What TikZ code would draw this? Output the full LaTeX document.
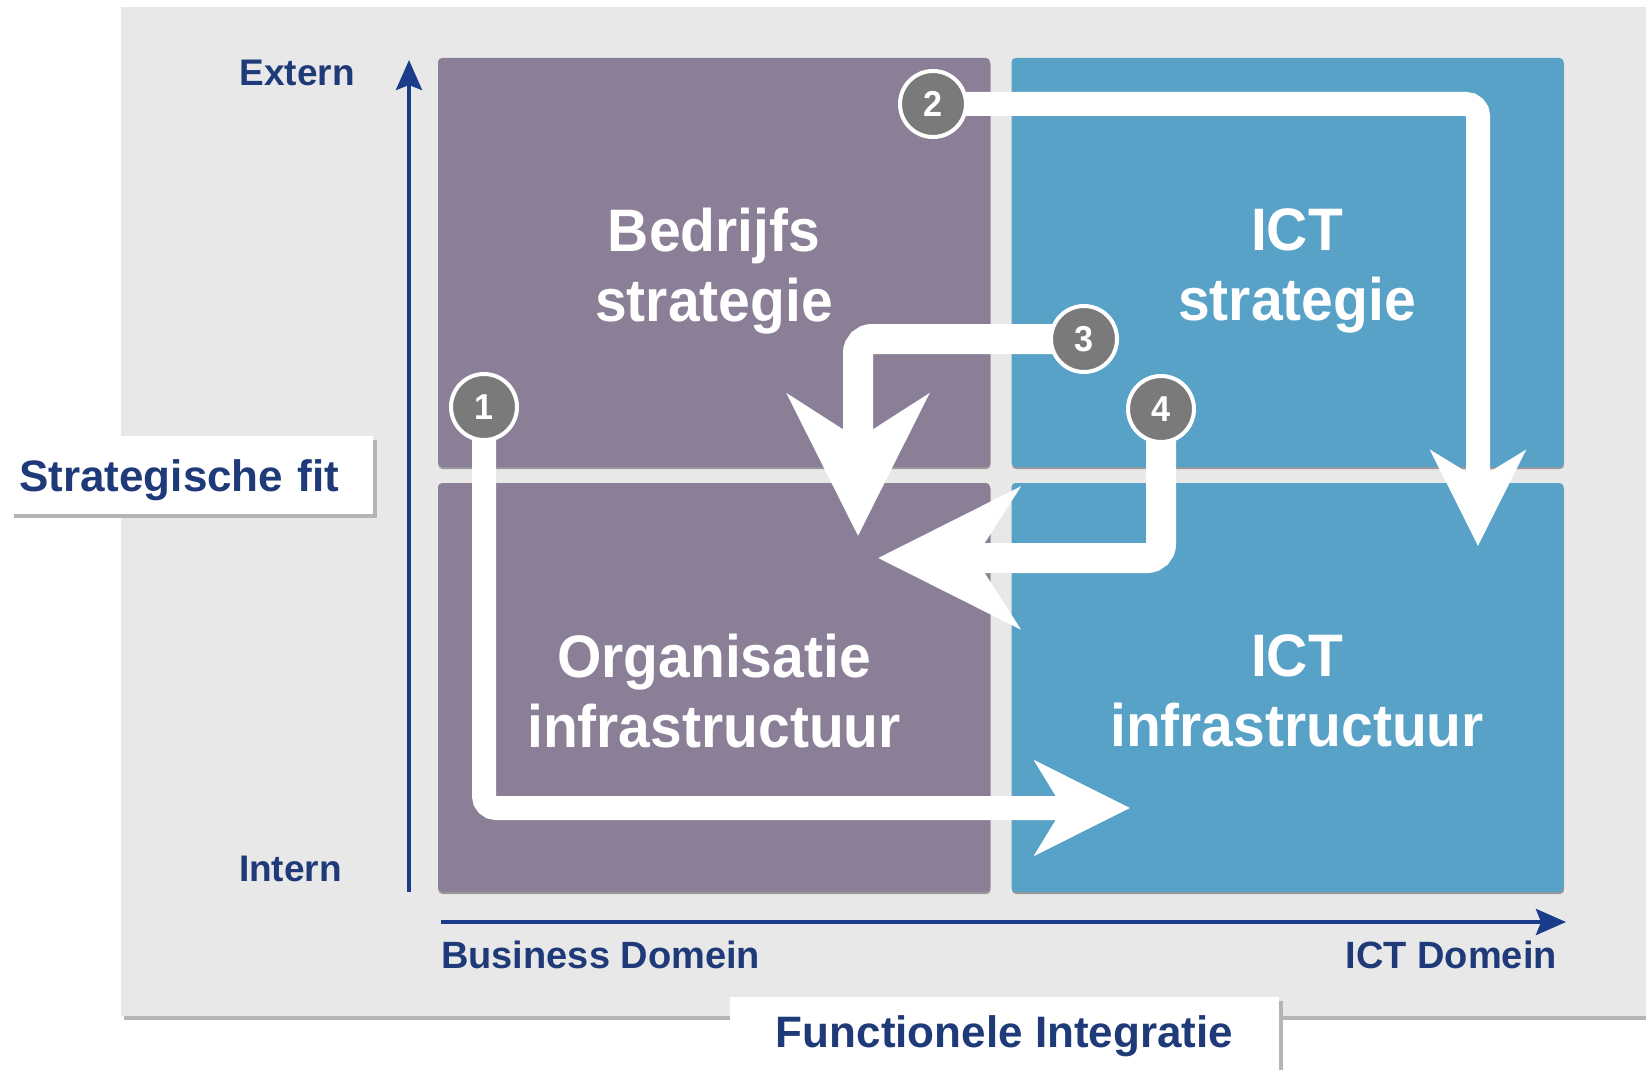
\documentclass[tikz,border=0pt]{standalone}
\usepackage{fontspec}
\setmainfont{Liberation Sans}
\newfontfamily\boxfont{Liberation Sans}[FakeStretch=0.95]
\usetikzlibrary{arrows.meta}
\definecolor{bggray}{HTML}{E8E8E8}
\definecolor{shadowgray}{HTML}{B5B5B5}
\definecolor{purp}{HTML}{8A7F97}
\definecolor{blu}{HTML}{58A2C8}
\definecolor{navy}{HTML}{1F3A78}
\definecolor{axisblue}{HTML}{1B3C8A}
\definecolor{numgray}{HTML}{7A7A7A}
\pgfdeclarelayer{back}
\pgfdeclarelayer{mid}
\pgfsetlayers{back,mid,main}
\begin{document}
\begin{tikzpicture}[x=1pt,y=-1pt,
  quad/.style={rounded corners=4pt, inner sep=0pt, minimum width=552pt, minimum height=409pt,
    preaction={fill=black!40, transform canvas={shift={(0.5pt,-2pt)}}}},
  quadtext/.style={text=white, align=center, inner sep=0pt,
    font=\boxfont\bfseries\fontsize{60pt}{70pt}\selectfont},
  num/.style={circle, fill=numgray, draw=white, line width=4pt, minimum size=66pt, inner sep=0pt,
    text=white, font=\boxfont\bfseries\fontsize{36pt}{36pt}\selectfont},
  flow/.style={white, line width=24pt, rounded corners=12pt,
    -{Stealth[length=95pt,width=94pt,inset=28pt]}},
  bigflow/.style={white, line width=30pt, rounded corners=14pt,
    -{Stealth[length=141pt,width=140pt,inset=44pt]}},
  axis/.style={axisblue, line width=4pt, -{Stealth[length=30pt,width=26pt,inset=5pt]}},
  axlbl/.style={text=navy, inner sep=0pt, font=\bfseries\fontsize{37pt}{42pt}\selectfont},
  domlbl/.style={text=navy, inner sep=0pt, font=\bfseries\fontsize{38pt}{42pt}\selectfont},
  tagbox/.style={fill=white, inner sep=0pt, text=navy, font=\bfseries\fontsize{44pt}{50pt}\selectfont,
    preaction={fill=shadowgray, transform canvas={shift={(4pt,-4pt)}}}}
]
\useasboundingbox (0,0) rectangle (1646,1070);
\begin{pgfonlayer}{back}
  \fill[white] (0,0) rectangle (1646,1070);
  \fill[shadowgray] (124,1013) rectangle (1646,1020);
  \fill[bggray] (121,7) rectangle (1646,1016);
  \node[quad, fill=purp] (bs) at (714,262.5) {};
  \node[quad, fill=blu] (is) at (1287.5,262.5) {};
  \node[quad, fill=purp] (oi) at (714,687.5) {};
  \node[quad, fill=blu] (ii) at (1287.5,687.5) {};
  \node[quadtext] (bst) at (714,271) {Bedrijfs\\strategie};
  \node[quadtext] (ist) at (1297,271) {ICT\\strategie};
  \node[quadtext] (oit) at (714,691) {Organisatie\\infrastructuur};
  \node[quadtext] (iit) at (1297,691) {ICT\\infrastructuur};
\end{pgfonlayer}

% axes
\coordinate (ya0) at (409,892);
\coordinate (ya1) at (409,60);
\coordinate (xa0) at (441,922);
\coordinate (xa1) at (1566,922);
\draw[axis] (ya0) -- (ya1);
\draw[axis] (xa0) -- (xa1);
\node[axlbl, anchor=east] (ext) at (355,73) {Extern};
\node[axlbl, anchor=east] (int) at (342,869) {Intern};
\node[domlbl, anchor=west] (bd) at (441,955) {Business Domein};
\node[domlbl, anchor=east] (id) at (1557,955) {ICT Domein};

% tag boxes
\node[tagbox, anchor=north west, minimum height=78pt, text width=345pt, inner xsep=9pt, align=left,
  text depth=-5pt] (sf) at (10,436) {Strategische fit};
\node[tagbox, anchor=north, minimum height=78pt, minimum width=549pt] (fi) at (1004.5,997) {Functionele Integratie};

% numbered circles
\node[num] (c1) at (484,407) {1};
\node[num] (c2) at (933,104) {2};
\node[num] (c3) at (1084,339) {3};
\node[num] (c4) at (1161,409) {4};

\coordinate (t1) at (1130,808);
\coordinate (t2) at (1478,546);
\coordinate (t3) at (858,536);
\coordinate (t4) at (878,558);
\begin{pgfonlayer}{mid}
  \draw[flow] (c1.center) |- (t1);
  \draw[flow] (c2.center) -| (t2);
  \draw[bigflow] (c3.center) -| (t3);
  \draw[bigflow] (c4.center) |- (t4);
\end{pgfonlayer}
\end{tikzpicture}
\end{document}
